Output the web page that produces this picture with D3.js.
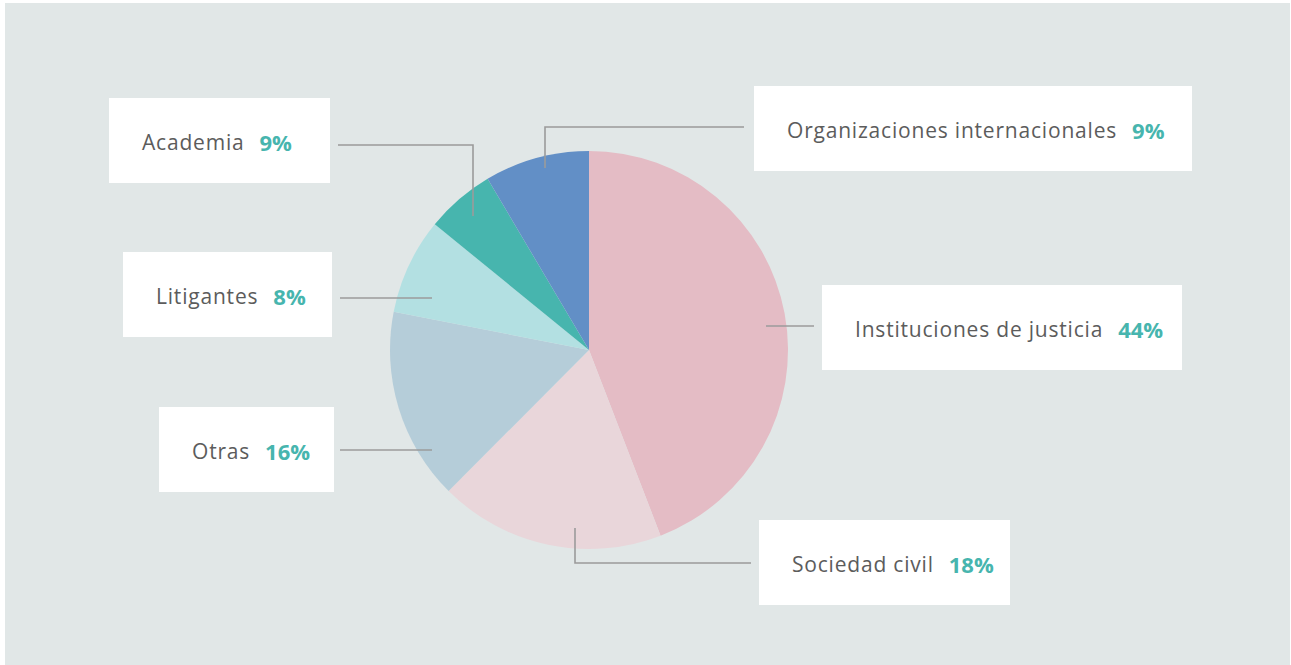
<!DOCTYPE html>
<html>
<head>
<meta charset="utf-8">
<script src="https://cdn.jsdelivr.net/npm/d3@7/dist/d3.min.js"></script>
<style>
  html, body { margin: 0; padding: 0; background: #ffffff; }
  svg { display: block; }
  text { font-family: "Open Sans", "Noto Sans", sans-serif; }
</style>
</head>
<body>
<svg id="chart" width="1291" height="665"></svg>
<script>
// ---- data ----
const categories = ["Instituciones de justicia", "Sociedad civil", "Otras", "Litigantes", "Academia", "Organizaciones internacionales"];
const shares = [44.1, 18.3, 15.6, 7.8, 5.6, 8.5];          // slice sizes
const pctLabels = ["44%", "18%", "16%", "8%", "9%", "9%"];   // printed labels
const colors = ["#e4bcc5", "#e9d6da", "#b5cdd9", "#b3e0e2", "#47b5ae", "#628fc6"];

// ---- layout (annotation boxes & leader routes, relative to pie centre) ----
const boxes = [
  {x: 822, y: 285, w: 360, h: 85},
  {x: 759, y: 520, w: 251, h: 85},
  {x: 159, y: 407, w: 175, h: 85},
  {x: 123, y: 252, w: 209, h: 85},
  {x: 109, y: 98,  w: 221, h: 85},
  {x: 754, y: 86,  w: 438, h: 85}
];
const leaders = [
  [[177, -24], [225, -24]],
  [[-14, 178], [-14, 213], [162, 213]],
  [[-157, 100], [-249, 100]],
  [[-157, -52], [-249, -52]],
  [[-116, -134], [-116, -205], [-251, -205]],
  [[-44, -182], [-44, -223], [155, -223]]
];

const W = 1291, H = 665;
const cx = 589, cy = 350, R = 199;
const svg = d3.select("#chart");

svg.append("rect").attr("x", 5).attr("y", 3).attr("width", W - 6).attr("height", H - 3).attr("fill", "#e1e7e7");

const data = categories.map((c, i) => ({cat: c, value: shares[i], pct: pctLabels[i], color: colors[i], box: boxes[i], leader: leaders[i]}));

const pie = d3.pie().value(d => d.value).sort(null);
const arc = d3.arc().innerRadius(0).outerRadius(R);
const g = svg.append("g").attr("transform", `translate(${cx},${cy})`);

g.selectAll("path.slice").data(pie(data)).join("path")
  .attr("class", "slice")
  .attr("d", arc)
  .attr("fill", d => d.data.color);

// leader lines
const line = d3.line();
g.selectAll("path.leader").data(data).join("path")
  .attr("class", "leader")
  .attr("d", d => line(d.leader))
  .attr("fill", "none")
  .attr("stroke", "#9b9b9b")
  .attr("stroke-width", 1.6);

// label boxes
const lab = svg.selectAll("g.lab").data(data).join("g").attr("class", "lab");
lab.append("rect")
  .attr("x", d => d.box.x).attr("y", d => d.box.y)
  .attr("width", d => d.box.w).attr("height", d => d.box.h)
  .attr("fill", "#ffffff");
const t = lab.append("text")
  .attr("x", d => d.box.x + 33)
  .attr("y", d => d.box.y + d.box.h / 2 + 1)
  .attr("dominant-baseline", "central");
t.append("tspan")
  .attr("font-size", 21)
  .attr("letter-spacing", 0.8)
  .attr("fill", "#5c5c5c")
  .text(d => d.cat);
t.append("tspan")
  .attr("dx", 15)
  .attr("font-size", 22)
  .attr("letter-spacing", 0)
  .attr("font-weight", "bold")
  .attr("fill", "#47b5ae")
  .text(d => d.pct);
</script>
</body>
</html>
